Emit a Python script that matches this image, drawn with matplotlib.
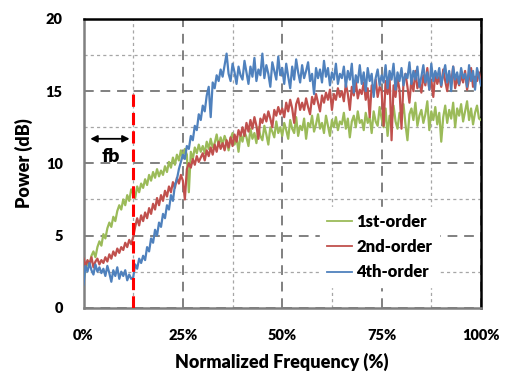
import numpy as np
import matplotlib
matplotlib.use("Agg")
import matplotlib.pyplot as plt
from matplotlib.ticker import MultipleLocator, FuncFormatter

plt.rcParams['font.family'] = ['Lato', 'DejaVu Sans']
plt.rcParams['font.weight'] = 'heavy'

# normalized frequency grid, 0.5 % steps
freq = np.arange(0, 100.5, 0.5)

first_order = [
    2.0, 2.6, 3.1, 2.9, 3.6, 3.9, 3.5, 4.2, 4.6, 4.3,
    5.1, 4.8, 5.5, 5.9, 5.6, 6.3, 6.0, 6.7, 7.1, 6.8,
    7.5, 7.1, 7.8, 7.4, 8.2, 7.9, 7.6, 8.4, 8.0, 8.6,
    8.3, 8.9, 8.5, 9.2, 8.8, 9.4, 9.0, 9.6, 9.1, 9.5,
    9.2, 9.8, 9.4, 10.1, 9.7, 10.4, 9.9, 10.6, 10.2, 10.9,
    10.4, 11.0, 10.6, 8.0, 10.8, 10.3, 11.1, 10.7, 11.3, 10.8,
    11.2, 10.7, 11.5, 11.0, 11.7, 11.1, 11.4, 12.0, 11.2, 11.8,
    11.3, 11.9, 11.5, 10.9, 11.7, 12.1, 11.3, 11.8, 10.8, 12.0,
    11.5, 12.2, 11.8, 11.2, 12.4, 11.7, 12.1, 11.4, 12.5, 11.9,
    11.6, 12.6, 12.0, 11.3, 12.5, 12.2, 11.8, 12.9, 12.1, 12.5,
    11.9, 12.8, 12.3, 11.7, 13.0, 12.4, 12.1, 13.2, 11.9, 12.6,
    12.3, 13.1, 11.7, 12.8, 12.5, 13.3, 12.2, 12.7, 13.4, 12.4,
    12.8, 12.1, 13.3, 12.6, 11.9, 13.0, 12.5, 13.2, 12.3, 12.9,
    12.7, 13.5, 12.4, 13.1, 11.8, 12.9, 13.3, 12.5, 13.6, 12.8,
    13.0, 12.3, 13.5, 12.8, 13.2, 12.1, 13.6, 12.9, 12.6, 13.9,
    13.1, 12.5, 13.8, 11.9, 13.3, 12.8, 14.0, 12.9, 12.4, 13.5,
    13.2, 14.1, 12.7, 11.6, 13.4, 13.8, 13.0, 14.2, 12.6, 13.3,
    13.7, 12.8, 13.4, 14.3, 12.3, 13.6, 13.0, 13.9, 12.7, 13.5,
    11.5, 13.2, 14.0, 12.8, 13.7, 13.1, 14.2, 12.5, 13.8, 13.3,
    14.1, 12.9, 13.6, 14.3, 13.0, 13.8, 12.7, 13.5, 14.0, 13.1,
    13.0,
]

second_order = [
    3.4, 2.9, 3.3, 3.0, 3.5, 2.8, 3.2, 3.4, 3.0, 3.3,
    3.1, 3.5, 3.2, 3.7, 3.4, 3.9, 3.6, 4.1, 3.8, 4.2,
    4.0, 4.5, 4.2, 4.7, 4.4, 4.9, 5.6, 6.2, 5.7, 6.4,
    6.0, 6.6, 6.2, 6.9, 6.5, 7.2, 6.8, 7.6, 7.1, 7.8,
    7.4, 8.1, 7.7, 8.4, 8.0, 8.7, 8.3, 9.0, 8.6, 9.2,
    8.8, 7.5, 9.6, 10.0, 9.7, 10.3, 9.9, 10.5, 10.1, 10.4,
    10.7, 10.2, 10.9, 10.5, 11.1, 10.6, 11.3, 10.8, 11.5, 11.0,
    11.4, 10.9, 11.6, 11.1, 11.8, 11.2, 12.0, 11.5, 12.3, 11.9,
    12.5, 11.9, 12.8, 12.2, 13.0, 12.4, 13.2, 12.6, 11.7, 13.1,
    12.8, 13.4, 12.9, 13.6, 13.1, 12.5, 13.7, 13.3, 13.9, 13.4,
    13.8, 13.2, 14.2, 13.6, 14.4, 13.8, 12.8, 14.1, 14.5, 13.7,
    14.2, 13.7, 14.5, 13.9, 13.4, 14.6, 14.1, 14.8, 14.2, 13.6,
    14.7, 14.2, 14.9, 14.4, 15.1, 13.7, 14.8, 14.4, 15.2, 14.6,
    15.0, 14.3, 15.5, 14.8, 13.7, 15.3, 14.7, 15.7, 14.5, 15.1,
    14.8, 15.6, 14.4, 15.2, 13.2, 15.4, 14.9, 15.8, 14.6, 15.3,
    15.0, 12.6, 15.7, 14.8, 16.0, 11.6, 15.4, 14.6, 15.9, 15.1,
    12.4, 15.6, 16.2, 15.3, 14.2, 15.8, 15.0, 16.4, 15.2, 15.7,
    14.9, 16.1, 15.4, 16.6, 15.1, 15.8, 14.6, 16.3, 15.5, 16.0,
    15.3, 16.5, 15.7, 15.0, 16.2, 15.5, 16.7, 15.2, 15.9, 15.4,
    16.1, 15.6, 16.4, 15.1, 15.9, 16.6, 15.3, 16.0, 15.7, 16.3,
    15.6,
]

fourth_order = [
    1.6, 2.9, 2.5, 3.1, 2.6, 2.3, 3.0, 2.5, 2.8, 2.4,
    2.7, 2.2, 2.9, 2.4, 1.8, 2.6, 2.2, 2.8, 2.0, 2.5,
    2.2, 2.6, 1.9, 2.3, 2.0, 2.1, 3.0, 2.7, 3.4, 3.1,
    3.6, 3.3, 4.2, 3.9, 4.8, 4.5, 5.4, 5.0, 5.9, 5.6,
    6.5, 6.2, 7.1, 6.8, 7.8, 7.4, 8.5, 8.9, 9.6, 10.1,
    10.6, 10.3, 11.2, 11.0, 11.9, 11.6, 12.6, 12.3, 13.4, 13.0,
    14.0, 13.6, 14.7, 15.3, 13.2, 15.6, 15.2, 16.1, 15.7, 16.5,
    16.0, 16.8, 17.6, 16.2, 15.7, 16.9, 16.3, 15.5, 16.7, 16.1,
    15.8, 17.1, 16.3, 15.5, 16.7, 16.0, 17.3, 15.7, 16.5, 16.1,
    17.6, 15.9, 16.8, 16.2, 15.3, 17.0, 16.4, 15.8, 17.4, 16.1,
    16.6, 15.5, 16.9, 16.0, 15.2, 16.7, 15.8, 17.2, 16.3, 15.6,
    16.8, 15.9, 16.4, 17.0, 15.7, 16.2, 14.8, 16.6, 15.9, 16.5,
    15.6, 17.1, 16.0, 16.6, 15.4, 16.3, 15.8, 16.9, 15.5, 16.2,
    15.9, 16.7, 15.3, 16.4, 15.8, 16.9, 14.9, 16.1, 15.6, 16.8,
    15.5, 16.3, 15.0, 16.6, 15.7, 16.2, 14.6, 15.9, 16.5, 15.4,
    16.1, 15.6, 16.8, 15.2, 16.4, 15.8, 16.9, 15.1, 16.3, 15.7,
    16.6, 15.4, 16.2, 15.9, 17.0, 15.5, 16.4, 15.8, 16.7, 15.3,
    16.0, 16.8, 15.6, 16.3, 15.1, 16.9, 15.7, 16.4, 15.9, 16.6,
    15.4, 16.2, 16.8, 15.6, 16.4, 15.0, 16.7, 15.8, 16.3, 15.5,
    16.6, 15.9, 16.2, 15.3, 16.8, 15.7, 16.4, 15.1, 16.6, 16.0,
    15.4,
]

series_names = ['1st-order', '2nd-order', '4th-order']
series_colors = ['#9BBB59', '#C0504D', '#4F81BD']
fb = 12.5  # band edge, %

fig = plt.figure(figsize=(5.07, 3.79), dpi=100)
ax = fig.add_axes([0.1647, 0.188, 0.784, 0.762])

for vals, name, col in zip([first_order, second_order, fourth_order],
                           series_names, series_colors):
    ax.plot(freq, vals, color=col, lw=1.6, label=name, zorder=3)

ax.set_xlim(0, 100)
ax.set_ylim(0, 20)
ax.xaxis.set_major_locator(MultipleLocator(25))
ax.xaxis.set_minor_locator(MultipleLocator(12.5))
ax.yaxis.set_major_locator(MultipleLocator(5))
ax.yaxis.set_minor_locator(MultipleLocator(2.5))
ax.xaxis.set_major_formatter(FuncFormatter(lambda v, p: f'{v:.0f}%'))
ax.grid(which='major', color='#808080', lw=1.4, ls=(0, (5, 3.5)), zorder=1)
ax.grid(which='minor', color='#a6a6a6', lw=0.9, ls=(0, (2.5, 2.5)), zorder=1)
ax.tick_params(which='both', length=0, labelsize=10.5)
ax.tick_params(axis='x', pad=15)
ax.tick_params(axis='y', pad=15)
for lab in ax.get_xticklabels() + ax.get_yticklabels():
    lab.set_fontweight('heavy')

for s in ['left', 'bottom']:
    ax.spines[s].set_color('#808080')
    ax.spines[s].set_linewidth(1.8)
for s in ['top', 'right']:
    ax.spines[s].set_color('black')
    ax.spines[s].set_linewidth(1.8)

# band edge marker and fb arrow
ax.vlines(fb, 0, 15, colors='#FF0000', lw=2.2, linestyles=(0, (4, 2)), zorder=4)
ax.annotate('', xy=(1.0, 11.7), xytext=(12.3, 11.7),
            arrowprops=dict(arrowstyle='<|-|>', color='black', lw=1.3,
                            mutation_scale=10))
ax.text(6.8, 10.5, 'fb', ha='center', va='center', fontsize=14, fontweight='heavy')

ax.set_xlabel('Normalized Frequency (%)', fontsize=13, fontweight='heavy', labelpad=8)
ax.set_ylabel('Power (dB)', fontsize=13, fontweight='heavy', labelpad=9)

leg = ax.legend(loc='upper left', bbox_to_anchor=(0.575, 0.376), frameon=True,
                fancybox=False, edgecolor='white', facecolor='white', framealpha=1,
                fontsize=12, handlelength=1.5, handletextpad=0.25, labelspacing=0.55,
                borderpad=0.4)
for h in leg.get_lines():
    h.set_linewidth(1.3)
for t in leg.get_texts():
    t.set_fontweight('heavy')

fig.savefig('out.png', dpi=100)
